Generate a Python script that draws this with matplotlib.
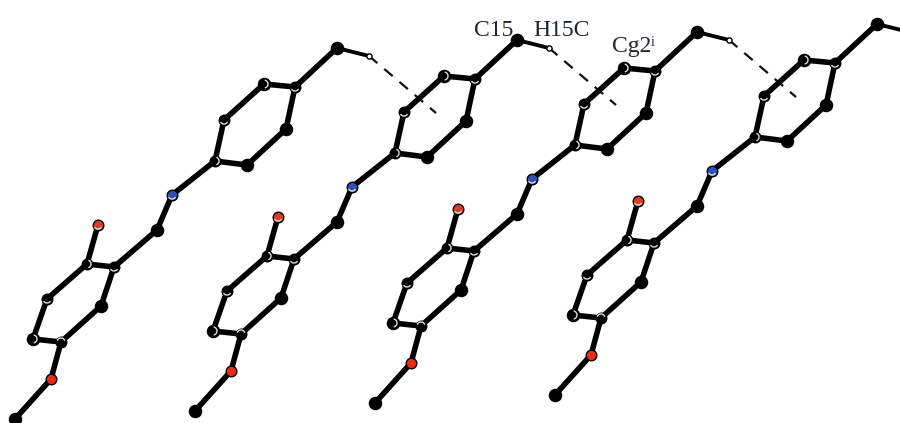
"""Packing diagram: four molecules along a translation, C-H...Cg contacts dashed."""

import matplotlib
matplotlib.use("Agg")
import matplotlib.pyplot as plt
from matplotlib.patches import Arc

# atoms of the third molecule, read in image pixels
atom_names = ["Me", "O1", "Ca", "Cb", "Cc", "Cd", "O2", "Ce", "Cf", "Cg",
              "N1", "C1", "C2", "C3", "C4", "C5", "C6", "C15", "H15"]
atom_x = [375, 411, 421, 393, 407, 447, 458, 474, 461, 517,
          532, 575, 607, 646, 655, 624, 584, 697, 729]
atom_y = [403, 363, 326, 323, 283, 248, 209, 251, 290, 214,
          179, 145, 149, 113, 71, 68, 104, 32, 40]

bonds = [("Me", "O1"), ("O1", "Ca"), ("Ca", "Cb"), ("Cb", "Cc"), ("Cc", "Cd"),
         ("Cd", "O2"), ("Cd", "Ce"), ("Ce", "Cf"), ("Cf", "Ca"), ("Ce", "Cg"),
         ("Cg", "N1"), ("N1", "C1"), ("C1", "C2"), ("C2", "C3"), ("C3", "C4"),
         ("C4", "C5"), ("C5", "C6"), ("C6", "C1"), ("C4", "C15")]

# molecule translations relative to the one above
shift_x = [-360, -180, 0, 180]
shift_y = [16, 8, 0, -8]

# ring centroid reached by each dashed contact (molecule 3 frame)
cg_x = 616
cg_y = 105

# white highlight on the atom: name -> (start, end) angle
highlights = {"Ca": (200, 340), "Cb": (-80, 80), "Cc": (30, 150), "Cd": (-70, 70),
              "O2": (30, 150), "Ce": (30, 150), "N1": (30, 150), "C1": (-70, 70),
              "C4": (30, 150), "C5": (-80, 80), "C6": (30, 150)}
colors = {"O1": "#f02a10", "O2": "#e03a20", "N1": "#2a50c0"}
big_atoms = ["Cb", "C5", "Cf", "C2", "C3", "Cg", "Me", "C15"]

labels = [("C15", 474, 36), ("H15C", 533, 36), ("Cg2", 612, 52)]
TEXT_COLOR = "#1c2538"

pos = {n: (x, y) for n, x, y in zip(atom_names, atom_x, atom_y)}

fig = plt.figure(figsize=(9, 4.23), dpi=100)
ax = fig.add_axes([0, 0, 1, 1])
ax.set_xlim(0, 900)
ax.set_ylim(423, 0)
ax.axis("off")

for i, (dx, dy) in enumerate(zip(shift_x, shift_y)):
    for a, b in bonds:
        ax.plot([pos[a][0] + dx, pos[b][0] + dx], [pos[a][1] + dy, pos[b][1] + dy],
                color="black", lw=4.0, solid_capstyle="round", zorder=2)
    h = pos["H15"]
    c = pos["C15"]
    ax.plot([c[0] + dx, h[0] + dx], [c[1] + dy, h[1] + dy], color="black", lw=2.8, zorder=2)
    # contact from the previous molecule's H to this ring
    if i > 0:
        ax.plot([h[0] + dx - 180, cg_x + dx], [h[1] + dy + 8, cg_y + dy], color="#111111",
                lw=1.6, ls=(0, (5, 4)), zorder=1)

    for name in atom_names:
        x, y = pos[name][0] + dx, pos[name][1] + dy
        if name == "H15":
            ax.scatter(x, y, s=14, color="white", edgecolors="black", linewidths=1.0, zorder=4)
        elif name in colors:
            ax.scatter(x, y, s=58, color=colors[name], edgecolors="black", linewidths=1.0, zorder=4)
        else:
            ax.scatter(x, y, s=76 if name in big_atoms else 58, color="black", zorder=4)
        if name in highlights:
            t1, t2 = highlights[name]
            ax.add_patch(Arc((x, y), 8, 8, theta1=t1, theta2=t2, color="#dddddd", lw=1.0, zorder=5))

for txt, x, y in labels:
    ax.text(x, y, txt, family="Liberation Serif", fontsize=17, color=TEXT_COLOR, va="baseline")
ax.text(651, 46, "i", family="Liberation Serif", fontsize=10, color=TEXT_COLOR, va="baseline")

fig.savefig("out.png", dpi=100)
